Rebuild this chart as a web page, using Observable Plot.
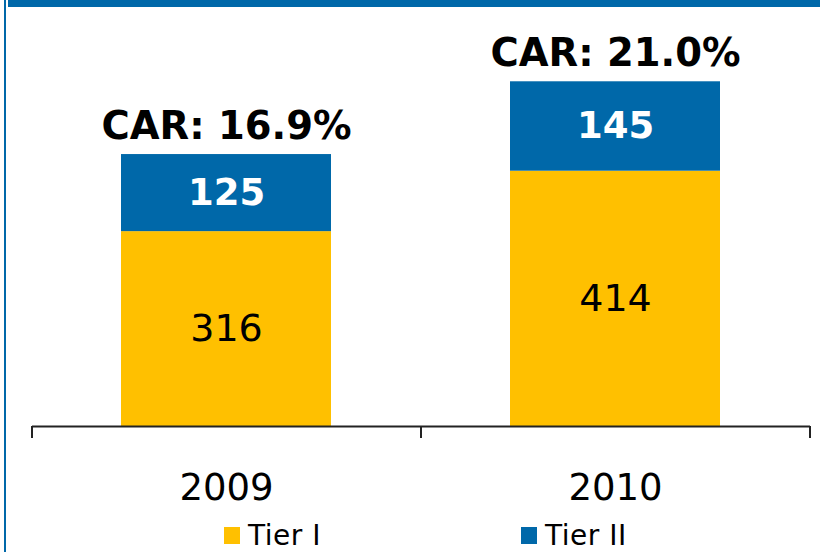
<!DOCTYPE html>
<html>
<head>
<meta charset="utf-8">
<script src="https://cdn.jsdelivr.net/npm/d3@7"></script>
<script src="https://cdn.jsdelivr.net/npm/@observablehq/plot@0.6"></script>
<style>
  html, body { margin: 0; padding: 0; background: #fff; }
  #wrap { position: relative; width: 820px; height: 552px; overflow: hidden; font-family: Verdana, "DejaVu Sans", sans-serif; }
  #leftline { position: absolute; left: 4px; top: 0; width: 2px; height: 552px; background: #0068A9; }
  #topbar { position: absolute; left: 8px; top: 0; right: 0; height: 7px; background: #0068A9; }
  #chart { position: absolute; left: 0; top: 0; }
  #legend { position: absolute; left: 0; top: 520px; width: 820px; height: 32px; }
  .item { position: absolute; top: 2px; height: 27px; display: flex; align-items: center; font-size: 28px; line-height: 1; color: #000; letter-spacing: 0.5px; }
  .sw { width: 16px; height: 17px; margin-right: 8px; }
</style>
</head>
<body>
<div id="wrap">
  <div id="chart"></div>
  <div id="leftline"></div>
  <div id="topbar"></div>
  <div id="legend"></div>
</div>
<script>
// Data
const years = ["2009", "2010"];
const tier1 = [316, 414];
const tier2 = [125, 145];
const car = ["CAR: 16.9%", "CAR: 21.0%"];
const seriesNames = ["Tier I", "Tier II"];
const seriesColors = ["#FFC000", "#0068A9"];
const legendLeft = [224, 521];

const rows = [];
years.forEach((y, i) => {
  rows.push({year: y, series: seriesNames[0], value: tier1[i]});
  rows.push({year: y, series: seriesNames[1], value: tier2[i]});
});
const totals = years.map((y, i) => ({year: y, total: tier1[i] + tier2[i], label: car[i]}));

const font = 'Verdana, "DejaVu Sans", sans-serif';

function boundaryTicks(index, scales, values, dims) {
  const {width, height, marginLeft, marginRight, marginBottom} = dims;
  const n = years.length;
  const step = (width - marginLeft - marginRight) / n;
  const g = d3.create("svg:g");
  for (let i = 0; i <= n; i++) {
    const x = marginLeft + i * step;
    g.append("line")
      .attr("x1", x).attr("x2", x)
      .attr("y1", height - marginBottom)
      .attr("y2", height - marginBottom + 12)
      .attr("stroke", "#222").attr("stroke-width", 2);
  }
  return g.node();
}

const chart = Plot.plot({
  width: 820,
  height: 520,
  marginLeft: 32,
  marginRight: 10,
  marginTop: 19,
  marginBottom: 94,
  style: {fontFamily: font, background: "transparent", overflow: "visible"},
  x: {domain: years, paddingInner: 0.46, paddingOuter: 0.23, label: null},
  y: {domain: [0, 660], axis: null},
  color: {domain: seriesNames, range: seriesColors},
  marks: [
    Plot.barY(rows, {x: "year", y: "value", fill: "series"}),
    Plot.text(rows, Plot.stackY({
      x: "year", y: "value", z: "series",
      text: d => d.series === seriesNames[0] ? String(d.value) : "",
      fill: "#000", fontSize: 38
    })),
    Plot.text(rows, Plot.stackY({
      x: "year", y: "value", z: "series",
      text: d => d.series === seriesNames[1] ? String(d.value) : "",
      fill: "#fff", fontSize: 37, fontWeight: "bold"
    })),
    Plot.text(totals, {x: "year", y: "total", text: "label", fontSize: 38.5, fontWeight: "bold", fill: "#000", dy: -28}),
    Plot.ruleY([0], {stroke: "#222", strokeWidth: 2}),
    boundaryTicks,
    Plot.axisX({tickSize: 0, tickPadding: 47, fontSize: 37, fill: "#000", label: null})
  ]
});
document.getElementById("chart").appendChild(chart);

const legend = document.getElementById("legend");
seriesNames.forEach((name, i) => {
  const item = document.createElement("div");
  item.className = "item";
  item.style.left = legendLeft[i] + "px";
  const sw = document.createElement("div");
  sw.className = "sw";
  sw.style.background = seriesColors[i];
  const t = document.createElement("span");
  t.textContent = name;
  item.appendChild(sw);
  item.appendChild(t);
  legend.appendChild(item);
});
</script>
</body>
</html>
